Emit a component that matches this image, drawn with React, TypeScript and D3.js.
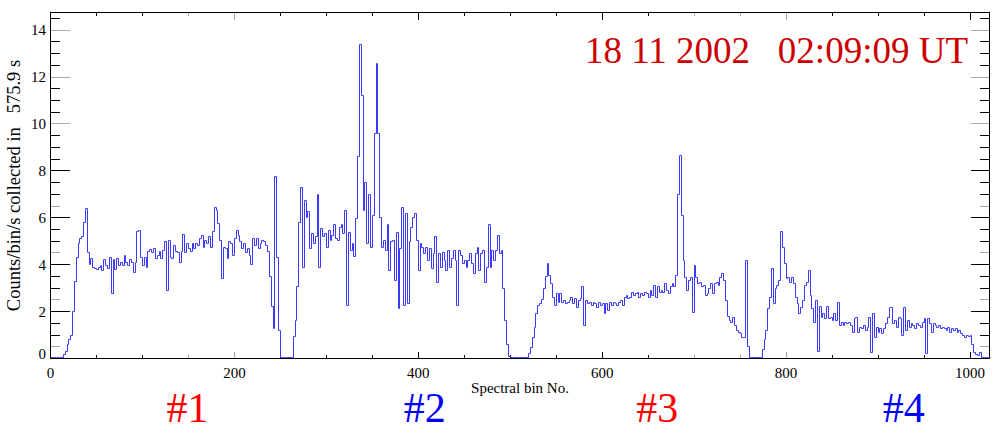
import React from "react";
import * as d3 from "d3";

// ---- data ----
const BIN_STEP = 2; // each value covers 2 spectral bins
const counts: number[] = [
  /* 0 */ 0, 0, 0, 0, 0, 0, 0, 0.15, 0.3, 0.6,
  /* 20 */ 0.8, 1.0, 2.0, 3.3, 4.3, 4.9, 5.1, 5.2, 5.8, 6.4,
  /* 40 */ 4.5, 4.0, 4.25, 3.9, 3.85, 3.8, 3.9, 3.95, 3.75, 4.2,
  /* 60 */ 3.97, 3.85, 4.3, 2.75, 4.2, 3.8, 4.25, 3.97, 4.1, 3.97,
  /* 80 */ 4.4, 4.1, 3.97, 4.2, 4.1, 3.68, 4.1, 5.4, 5.45, 4.3,
  /* 100 */ 3.97, 4.3, 3.9, 4.55, 4.65, 4.5, 4.68, 4.25, 4.4, 4.55,
  /* 120 */ 4.25, 4.6, 5.0, 2.9, 5.05, 4.3, 4.25, 4.8, 4.55, 4.5,
  /* 140 */ 4.1, 4.55, 5.3, 4.5, 4.9, 4.68, 4.55, 4.9, 4.68, 4.9,
  /* 160 */ 4.82, 5.1, 5.25, 4.75, 5.05, 4.9, 5.2, 4.75, 5.4, 6.45,
  /* 180 */ 6.3, 5.75, 5.05, 3.4, 4.75, 4.68, 4.25, 5.0, 4.9, 4.4,
  /* 200 */ 5.1, 5.45, 5.25, 5.0, 4.68, 4.9, 4.5, 4.68, 4.4, 4.0,
  /* 220 */ 5.1, 4.82, 5.1, 4.68, 4.9, 5.05, 5.0, 4.82, 4.55, 3.5,
  /* 240 */ 2.2, 1.3, 7.75, 4.3, 1.2, 0, 0, 0, 0, 0,
  /* 260 */ 0, 0, 0.92, 1.6, 3.05, 5.8, 7.3, 3.9, 6.75, 6.0,
  /* 280 */ 6.25, 4.68, 5.32, 4.9, 5.18, 7.0, 3.9, 5.54, 5.18, 5.32,
  /* 300 */ 4.75, 5.47, 5.04, 5.25, 5.7, 5.1, 5.04, 5.6, 5.72, 5.32,
  /* 320 */ 6.3, 2.26, 5.39, 4.6, 4.9, 4.33, 5.96, 8.6, 13.4, 11.2,
  /* 340 */ 6.3, 7.5, 4.9, 7.0, 4.75, 6.1, 9.6, 12.57, 9.6, 6.0,
  /* 360 */ 4.75, 5.04, 4.6, 5.7, 3.76, 4.97, 5.04, 3.33, 5.39, 2.12,
  /* 380 */ 4.68, 6.45, 2.26, 6.17, 2.33, 4.97, 5.6, 6.03, 6.17, 5.04,
  /* 400 */ 3.76, 4.9, 4.75, 4.47, 4.75, 4.18, 4.68, 3.83, 4.47, 5.18,
  /* 420 */ 3.26, 4.47, 3.9, 4.54, 4.18, 3.76, 4.6, 3.9, 4.25, 4.6,
  /* 440 */ 4.18, 2.26, 4.6, 4.4, 4.04, 4.18, 3.9, 4.18, 4.47, 4.04,
  /* 460 */ 3.62, 4.47, 4.75, 3.76, 4.47, 4.6, 3.26, 3.9, 5.7, 3.9,
  /* 480 */ 4.6, 4.18, 4.6, 5.25, 4.47, 4.6, 3.0, 1.62, 0.6, 0.1,
  /* 500 */ 0, 0, 0, 0, 0, 0, 0, 0, 0, 0,
  /* 520 */ 0.2, 0.48, 0.9, 1.34, 1.9, 2.26, 2.33, 2.5, 3.0, 3.5,
  /* 540 */ 4.04, 3.54, 3.19, 2.62, 2.26, 2.76, 2.4, 2.76, 2.4, 2.48,
  /* 560 */ 2.33, 2.4, 2.48, 2.62, 2.33, 2.55, 2.19, 2.48, 2.55, 3.05,
  /* 580 */ 1.41, 2.48, 2.33, 2.4, 2.26, 2.4, 2.33, 2.19, 2.4, 2.26,
  /* 600 */ 2.33, 1.9, 2.33, 2.05, 2.4, 2.26, 2.4, 2.33, 2.26, 2.4,
  /* 620 */ 2.48, 2.26, 2.62, 2.69, 2.55, 2.62, 2.83, 2.69, 2.76, 2.83,
  /* 640 */ 2.62, 2.76, 2.69, 2.83, 2.76, 2.62, 2.9, 2.69, 3.12, 2.62,
  /* 660 */ 3.05, 2.83, 2.9, 2.83, 3.19, 2.9, 2.76, 3.05, 3.19, 3.05,
  /* 680 */ 3.54, 7.0, 8.66, 6.1, 4.18, 3.47, 2.9, 3.33, 3.47, 1.98,
  /* 700 */ 3.97, 3.47, 3.19, 3.26, 3.05, 3.12, 2.69, 2.76, 2.98, 3.19,
  /* 720 */ 2.76, 3.19, 3.26, 3.12, 3.47, 3.61, 3.33, 2.48, 1.8, 1.62,
  /* 740 */ 1.55, 1.76, 1.41, 1.2, 1.1, 1.05, 0.9, 0.88, 4.18, 0.5,
  /* 760 */ 0, 0, 0, 0, 0, 0, 0, 0.4, 0.8, 1.2,
  /* 780 */ 2.12, 2.62, 3.83, 2.33, 2.98, 3.12, 3.33, 5.43, 4.75, 4.04,
  /* 800 */ 3.4, 3.47, 3.26, 3.47, 3.19, 2.62, 2.33, 1.9, 2.19, 2.48,
  /* 820 */ 3.12, 3.26, 3.76, 2.69, 2.12, 1.55, 2.48, 0.3, 2.2, 1.76,
  /* 840 */ 1.9, 1.69, 2.22, 1.69, 1.76, 1.62, 1.9, 1.62, 2.4, 1.41,
  /* 860 */ 1.55, 1.41, 1.55, 1.48, 1.55, 1.41, 1.12, 1.69, 1.76, 1.12,
  /* 880 */ 1.34, 1.26, 1.41, 1.2, 1.34, 1.76, 0.27, 1.9, 0.91, 1.34,
  /* 900 */ 1.12, 1.26, 1.05, 1.26, 1.48, 1.76, 2.19, 2.19, 1.48, 1.62,
  /* 920 */ 1.34, 1.76, 1.69, 1.0, 2.19, 1.2, 1.62, 1.34, 1.48, 1.41,
  /* 940 */ 1.26, 1.48, 1.41, 1.34, 1.55, 1.69, 0.2, 1.69, 1.48, 1.12,
  /* 960 */ 1.48, 1.41, 1.34, 1.41, 1.26, 1.34, 1.26, 1.2, 1.34, 1.12,
  /* 980 */ 1.26, 1.2, 1.26, 1.12, 1.2, 1.05, 0.98, 0.91, 0.98, 0.94,
  /* 1000 */ 0.98, 0.6, 0.27, 0.17, 0.11, 0.27, 0.03, 0, 0, 0,
  /* 1020 */ 0, 0,
];

const xMajorTicks = [0, 200, 400, 600, 800, 1000];
const xMinorStep = 50;
const yMajorTicks = [0, 2, 4, 6, 8, 10, 12, 14];
const yMinorStep = 0.5;
const titleText = "18 11 2002   02:09:09 UT";
const yAxisTitle = "Counts/bin/s collected in   575.9 s";
const xAxisTitle = "Spectral bin No.";
const detectorLabels = ["#1", "#2", "#3", "#4"];
const detectorBins = [149, 407, 660, 928];
const detectorColors = ["#ff0000", "#0000ff", "#ff0000", "#0000ff"];
// ticks that the reference renders in light grey
const xGreyTicks = [150, 200, 700, 750, 800];
const yGreyTicks = [0.5, 2.5, 4.5, 6.5, 10, 12, 14];

const W = 1001;
const H = 431;
const L = 50.5, R = 989.5, T = 12.5, B = 358.5;
const FONT = "'Liberation Serif', 'Times New Roman', serif";

export default function App() {
  const x = d3.scaleLinear().domain([0, 1021.2]).range([L, R]);
  const y = d3.scaleLinear().domain([0, 14.75]).range([B, T]);
  const px = (v: number) => Math.round(v - 0.5) + 0.5;

  const pts: [number, number][] = counts.map((v, i) => [i * BIN_STEP, v]);
  pts.push([counts.length * BIN_STEP, counts[counts.length - 1]]);
  const line = d3
    .line<[number, number]>()
    .x((d) => px(x(d[0])))
    .y((d) => Math.min(px(y(d[1])), B - 1))
    .curve(d3.curveStepAfter);

  const xTicks = d3.range(0, 1021, xMinorStep);
  const yTicks = d3.range(0, 14.75, yMinorStep);

  const isXMajor = (v: number) => xMajorTicks.includes(v);
  const isYMajor = (v: number) => yMajorTicks.includes(v);
  const greyX = (v: number) => xGreyTicks.includes(v);
  const greyY = (v: number) => yGreyTicks.some((g) => Math.abs(g - v) < 1e-6);

  return (
    <svg
      width={W}
      height={H}
      style={{ position: "absolute", left: 0, top: 0, display: "block", background: "#fff" }}
      fontFamily={FONT}
    >
      <rect x={0} y={0} width={W} height={H} fill="#ffffff" />
      <defs>
        <clipPath id="plotclip">
          <rect x={L} y={T - 1} width={R - L + 1} height={B - T + 2} />
        </clipPath>
      </defs>

      {/* ticks */}
      <g shapeRendering="crispEdges" strokeWidth={1}>
        {xTicks.map((v) => {
          const len = isXMajor(v) ? 7 : 3.5;
          const xx = px(x(v));
          const col = greyX(v) ? "#a8a8a8" : "#000";
          return (
            <g key={"xt" + v} stroke={col}>
              <line x1={xx} x2={xx} y1={B} y2={B - len} />
              <line x1={xx} x2={xx} y1={T} y2={T + len} />
            </g>
          );
        })}
        {yTicks.map((v) => {
          const len = isYMajor(v) ? 19 : 9.5;
          const yy = px(y(v));
          const col = greyY(v) ? "#a8a8a8" : "#000";
          return (
            <g key={"yt" + v} stroke={col}>
              <line x1={L} x2={L + len} y1={yy} y2={yy} />
              <line x1={R} x2={R - len} y1={yy} y2={yy} />
            </g>
          );
        })}
        <rect x={L} y={T} width={R - L} height={B - T} fill="none" stroke="#000" />
      </g>

      {/* data */}
      <path
        d={line(pts) || ""}
        fill="none"
        stroke="#3a3aff"
        strokeWidth={1}
        clipPath="url(#plotclip)"
      />

      {/* tick labels */}
      <g fontSize={15} fill="#000">
        {xMajorTicks.map((v) => (
          <text key={"xl" + v} x={x(v)} y={377.5} textAnchor="middle">
            {v}
          </text>
        ))}
        {yMajorTicks.map((v) => (
          <text key={"yl" + v} x={46} y={Math.min(y(v) + 5, B + 0.5)} textAnchor="end">
            {v}
          </text>
        ))}
      </g>

      {/* axis titles */}
      <text x={(L + R) / 2} y={393} textAnchor="middle" fontSize={15} fill="#000">
        {xAxisTitle}
      </text>
      <text
        transform={`translate(19.5, ${(T + B) / 2}) rotate(-90)`}
        textAnchor="middle"
        fontSize={18.5}
        fill="#000"
        style={{ whiteSpace: "pre" }}
      >
        {yAxisTitle}
      </text>

      {/* date/time title */}
      <text
        x={968}
        y={63}
        textAnchor="end"
        fontSize={37}
        fill="#cc0000"
        style={{ whiteSpace: "pre" }}
      >
        {titleText}
      </text>

      {/* detector labels */}
      {detectorLabels.map((lab, i) => (
        <text
          key={lab}
          x={x(detectorBins[i])}
          y={421.5}
          textAnchor="middle"
          fontSize={42}
          fill={detectorColors[i]}
        >
          {lab}
        </text>
      ))}
    </svg>
  );
}
